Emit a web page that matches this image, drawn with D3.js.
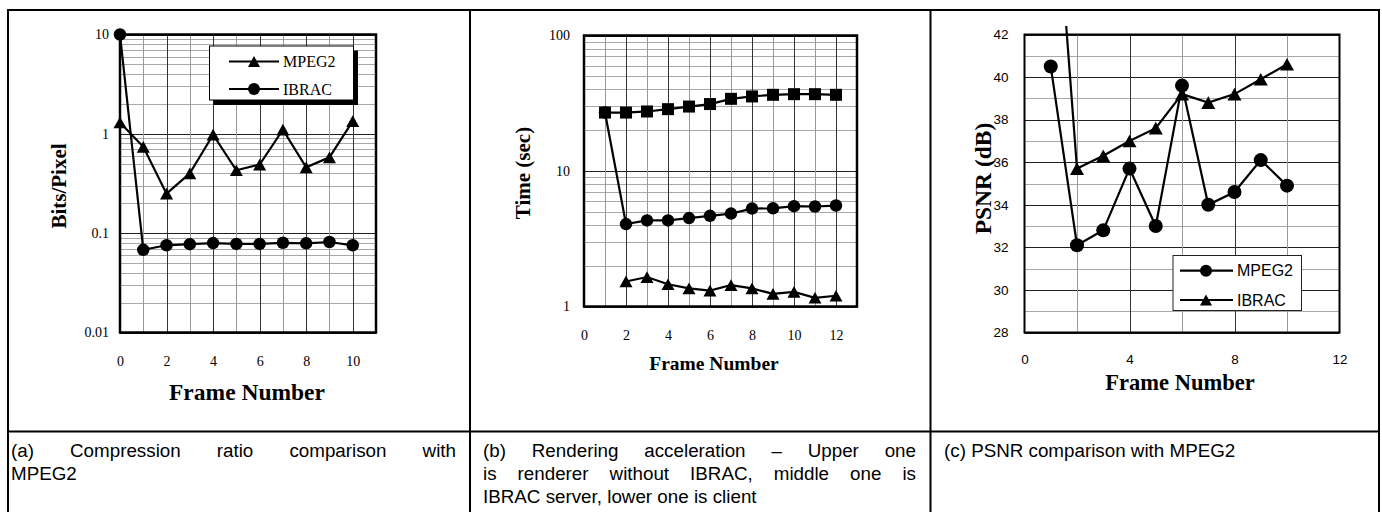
<!DOCTYPE html>
<html>
<head>
<meta charset="utf-8">
<script src="https://cdn.jsdelivr.net/npm/d3@7"></script>
<style>
  body { margin: 0; background: #fff; }
  svg { display: block; }
</style>
</head>
<body>
<script>
var width = 1382, height = 512;

// (a) compression ratio, bits/pixel
var framesA = [0, 1, 2, 3, 4, 5, 6, 7, 8, 9, 10];
var mpegA = [1.3, 0.74, 0.25, 0.40, 0.98, 0.43, 0.49, 1.1, 0.46, 0.58, 1.34];
var ibracA = [10, 0.068, 0.0755, 0.0775, 0.0795, 0.078, 0.078, 0.080, 0.079, 0.0815, 0.0755];
var xTicksA = [0, 2, 4, 6, 8, 10];
var yTicksA = [0.01, 0.1, 1, 10];

// (b) rendering time, sec
var framesB = [1, 2, 3, 4, 5, 6, 7, 8, 9, 10, 11, 12];
var rendererB = [27, 27, 27.5, 28.6, 29.9, 31.2, 34.1, 35.5, 36.5, 36.9, 36.9, 36.5];
var serverB = [27, 4.06, 4.32, 4.32, 4.49, 4.67, 4.85, 5.28, 5.3, 5.5, 5.47, 5.56];
var clientFramesB = [2, 3, 4, 5, 6, 7, 8, 9, 10, 11, 12];
var clientB = [1.53, 1.65, 1.46, 1.36, 1.31, 1.44, 1.36, 1.24, 1.28, 1.16, 1.2];
var xTicksB = [0, 2, 4, 6, 8, 10, 12];
var yTicksB = [1, 10, 100];

// (c) PSNR, dB
var framesC = [1, 2, 3, 4, 5, 6, 7, 8, 9, 10];
var mpegC = [40.5, 32.1, 32.8, 35.7, 33.0, 39.6, 34.0, 34.6, 36.1, 34.9];
var ibracC = [52, 35.7, 36.3, 37.0, 37.6, 39.2, 38.8, 39.2, 39.9, 40.6];
var xTicksC = [0, 4, 8, 12];
var yTicksC = [28, 30, 32, 34, 36, 38, 40, 42];

var captionA = ["(a) Compression ratio comparison with", "MPEG2"];
var captionB = ["(b) Rendering acceleration \u2013 Upper one", "is renderer without IBRAC, middle one is", "IBRAC server, lower one is client"];
var captionC = ["(c) PSNR comparison with MPEG2"];

var serif = "'Liberation Serif', 'Times New Roman', serif";
var sans = "'Liberation Sans', Arial, sans-serif";

var svg = d3.select("body").append("svg")
  .attr("width", width)
  .attr("height", height);

// marker shapes, centred on the bounding box like Excel does
function marker(g, type, cx, cy, s) {
  if (type == "circle") {
    g.append("circle").attr("cx", cx).attr("cy", cy).attr("r", s / 2).attr("fill", "#000");
  } else if (type == "square") {
    g.append("rect").attr("x", cx - s / 2).attr("y", cy - s / 2)
      .attr("width", s).attr("height", s).attr("fill", "#000");
  } else {
    var h = s * 0.9;
    g.append("path")
      .attr("d", "M" + cx + "," + (cy - h / 2) + " L" + (cx + s / 2) + "," + (cy + h / 2) +
            " L" + (cx - s / 2) + "," + (cy + h / 2) + " Z")
      .attr("fill", "#000");
  }
}

function series(g, x, y, xs, ys, type, s) {
  var pts = xs.map((d, i) => [x(d), y(ys[i])]);
  g.append("path")
    .attr("d", d3.line()(pts))
    .attr("fill", "none").attr("stroke", "#000").attr("stroke-width", 2.2);
  pts.forEach((p) => marker(g, type, p[0], p[1], s));
}

function panel(o) {
  var g = svg.append("g");
  var x = d3.scaleLinear().domain(o.xDomain).range([o.left, o.right]);
  var y = (o.log ? d3.scaleLog() : d3.scaleLinear()).domain(o.yDomain).range([o.bottom, o.top]);

  // horizontal grid
  var hLines = o.log ? y.ticks() : d3.range(o.yDomain[0], o.yDomain[1] + 1, 1);
  hLines.forEach((v) => {
    var major = o.log ? Math.abs(Math.log10(v) - Math.round(Math.log10(v))) < 1e-9 : v % 2 == 0;
    g.append("line")
      .attr("x1", o.left).attr("x2", o.right)
      .attr("y1", Math.round(y(v)) + 0.5).attr("y2", Math.round(y(v)) + 0.5)
      .attr("stroke", major ? "#222" : "#a8a8a8").attr("stroke-width", 1);
  });
  // vertical grid
  d3.range(o.xDomain[0] + o.xStep, o.xDomain[1], o.xStep).forEach((v) => {
    var major = v % o.xMajor == 0;
    g.append("line")
      .attr("y1", o.top).attr("y2", o.bottom)
      .attr("x1", Math.round(x(v)) + 0.5).attr("x2", Math.round(x(v)) + 0.5)
      .attr("stroke", major ? "#333" : "#999").attr("stroke-width", 1);
  });

  // frame
  g.append("rect")
    .attr("x", o.left).attr("y", o.top)
    .attr("width", o.right - o.left).attr("height", o.bottom - o.top)
    .attr("fill", "none").attr("stroke", "#000").attr("stroke-width", o.frameWidth);

  // tick labels
  var ay = g.append("g")
    .attr("transform", "translate(" + o.left + ",0)")
    .call(d3.axisLeft(y).tickValues(o.yTicks).tickFormat(o.yFormat).tickSize(0).tickPadding(o.yPad));
  var ax = g.append("g")
    .attr("transform", "translate(0," + o.bottom + ")")
    .call(d3.axisBottom(x).tickValues(o.xTicks).tickFormat(d3.format("d")).tickSize(0).tickPadding(o.xPad));
  [ay, ax].forEach((a) => {
    a.select(".domain").remove();
    a.attr("font-family", o.tickFont).attr("font-size", o.tickSize).attr("fill", "#000");
    a.selectAll("text").attr("fill", "#000");
  });

  // axis titles
  g.append("text")
    .attr("transform", "translate(" + o.yTitleX + "," + o.yTitleY + ") rotate(-90)")
    .attr("text-anchor", "middle")
    .attr("font-family", serif).attr("font-weight", "bold").attr("font-size", o.yTitleSize)
    .text(o.yTitle);
  g.append("text")
    .attr("x", o.xTitleX).attr("y", o.xTitleY)
    .attr("text-anchor", "middle")
    .attr("font-family", serif).attr("font-weight", "bold").attr("font-size", o.xTitleSize)
    .text("Frame Number");

  return {g: g, x: x, y: y};
}

// ---- panel (a)
var pa = panel({
  left: 120, right: 376, top: 34.5, bottom: 332.5,
  xDomain: [0, 11], yDomain: [0.01, 10], log: true,
  xStep: 1, xMajor: 2, frameWidth: 2.5,
  xTicks: xTicksA, yTicks: yTicksA, yFormat: (d) => String(d),
  tickFont: serif, tickSize: 14, yPad: 11, xPad: 24,
  yTitle: "Bits/Pixel", yTitleX: 66, yTitleY: 186, yTitleSize: 21,
  xTitleX: 247, xTitleY: 400, xTitleSize: 23.5
});
// legend with drop shadow
pa.g.append("rect").attr("x", 213.5).attr("y", 50.5).attr("width", 144.5).attr("height", 54.5).attr("fill", "#000");
pa.g.append("rect").attr("x", 209.5).attr("y", 46).attr("width", 144).attr("height", 54)
  .attr("fill", "#fff").attr("stroke", "#000").attr("stroke-width", 1);
series(pa.g, pa.x, pa.y, framesA, mpegA, "triangle", 13);
series(pa.g, pa.x, pa.y, framesA, ibracA, "circle", 12.5);
[["MPEG2", "triangle", 61.5], ["IBRAC", "circle", 89]].forEach((r) => {
  pa.g.append("line").attr("x1", 229).attr("x2", 279).attr("y1", r[2]).attr("y2", r[2])
    .attr("stroke", "#000").attr("stroke-width", 2.2);
  marker(pa.g, r[1], 254, r[2], 12);
  pa.g.append("text").attr("x", 283).attr("y", r[2]).attr("dy", "0.35em")
    .attr("font-family", serif).attr("font-size", 16).text(r[0]);
});

// ---- panel (b)
var pb = panel({
  left: 584, right: 857, top: 35.5, bottom: 306.5,
  xDomain: [0, 13], yDomain: [1, 100], log: true,
  xStep: 1, xMajor: 2, frameWidth: 2.5,
  xTicks: xTicksB, yTicks: yTicksB, yFormat: (d) => String(d),
  tickFont: serif, tickSize: 14, yPad: 14, xPad: 24,
  yTitle: "Time (sec)", yTitleX: 530, yTitleY: 173, yTitleSize: 21,
  xTitleX: 714, xTitleY: 370, xTitleSize: 19.5
});
series(pb.g, pb.x, pb.y, framesB, serverB, "circle", 12.5);
series(pb.g, pb.x, pb.y, framesB, rendererB, "square", 12);
series(pb.g, pb.x, pb.y, clientFramesB, clientB, "triangle", 13);

// ---- panel (c)
var pc = panel({
  left: 1024.5, right: 1339.5, top: 34.5, bottom: 332.5,
  xDomain: [0, 12], yDomain: [28, 42], log: false,
  xStep: 2, xMajor: 4, frameWidth: 2,
  xTicks: xTicksC, yTicks: yTicksC, yFormat: (d) => String(d),
  tickFont: sans, tickSize: 13.5, yPad: 16, xPad: 22,
  yTitle: "PSNR (dB)", yTitleX: 991, yTitleY: 178.5, yTitleSize: 23.5,
  xTitleX: 1180, xTitleY: 390, xTitleSize: 22.5
});
svg.append("clipPath").attr("id", "clipC").append("rect")
  .attr("x", 1010).attr("y", 26).attr("width", 345).attr("height", 320);
var cg = pc.g.append("g").attr("clip-path", "url(#clipC)");
series(cg, pc.x, pc.y, framesC, mpegC, "circle", 14);
series(cg, pc.x, pc.y, framesC, ibracC, "triangle", 14);
pc.g.append("rect").attr("x", 1173).attr("y", 255.5).attr("width", 128.5).attr("height", 55)
  .attr("fill", "#fff").attr("stroke", "#222").attr("stroke-width", 1);
[["MPEG2", "circle", 270.7], ["IBRAC", "triangle", 300]].forEach((r) => {
  pc.g.append("line").attr("x1", 1180).attr("x2", 1233).attr("y1", r[2]).attr("y2", r[2])
    .attr("stroke", "#000").attr("stroke-width", 2.2);
  marker(pc.g, r[1], 1206, r[2], 12);
  pc.g.append("text").attr("x", 1237).attr("y", r[2]).attr("dy", "0.35em")
    .attr("font-family", sans).attr("font-size", 16).text(r[0]);
});

// ---- table rules
var rules = svg.append("g").attr("stroke", "#000").attr("stroke-width", 2).attr("fill", "none");
rules.append("rect").attr("x", 8).attr("y", 10).attr("width", 1371).attr("height", 520);
rules.append("line").attr("x1", 470).attr("x2", 470).attr("y1", 10).attr("y2", 520);
rules.append("line").attr("x1", 930.5).attr("x2", 930.5).attr("y1", 10).attr("y2", 520);
rules.append("line").attr("x1", 8).attr("x2", 1379).attr("y1", 431.5).attr("y2", 431.5);

// ---- captions, justified except the last line
function caption(lines, x0, x1) {
  var fs = 18.8;
  lines.forEach((line, i) => {
    var yy = 456.5 + i * 23;
    var words = line.split(" ");
    var nodes = words.map((w) => svg.append("text")
      .attr("y", yy).attr("font-family", sans).attr("font-size", fs).text(w));
    var widths = nodes.map((n) => n.node().getComputedTextLength());
    var space = 0.278 * fs;
    if (i < lines.length - 1 && words.length > 1) {
      space = (x1 - x0 - d3.sum(widths)) / (words.length - 1);
    }
    var cx = x0;
    nodes.forEach((n, k) => {
      n.attr("x", cx);
      cx += widths[k] + space;
    });
  });
}
caption(captionA, 11, 456);
caption(captionB, 483, 916);
caption(captionC, 944, 1370);
</script>
</body>
</html>
